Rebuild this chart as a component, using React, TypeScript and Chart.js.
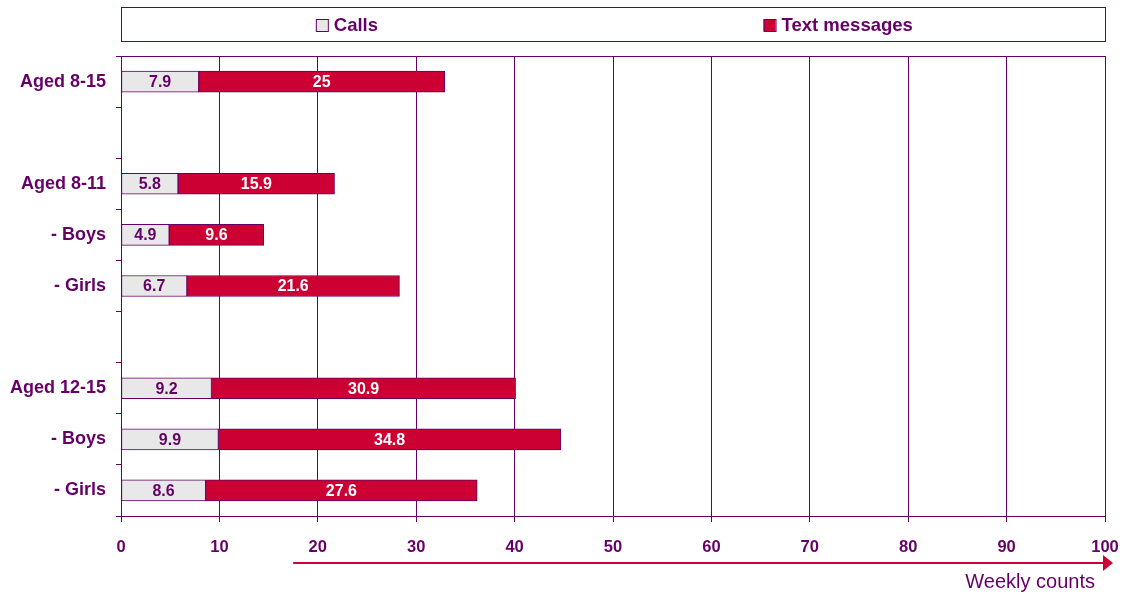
import React, { useEffect, useRef } from "react";
import { Chart, registerables } from "chart.js";

Chart.register(...registerables);

const categories = ["Aged 8-15", "", "Aged 8-11", "- Boys", "- Girls", "", "Aged 12-15", "- Boys", "- Girls"];
const callsValues = [7.9, null, 5.8, 4.9, 6.7, null, 9.2, 9.9, 8.6];
const textValues = [25, null, 15.9, 9.6, 21.6, null, 30.9, 34.8, 27.6];
const seriesNames = ["Calls", "Text messages"];
const xTicks = [0, 10, 20, 30, 40, 50, 60, 70, 80, 90, 100];
const axisTitle = "Weekly counts";

const PURPLE = "#660066";
const RED = "#CC0033";
const GREY = "#E8E8E8";
const FONT = "'Liberation Sans', Arial, sans-serif";

const decorPlugin = {
  id: "decor",
  afterDraw(chart: any) {
    const { ctx, chartArea } = chart;
    const { left, right, top } = chartArea;
    const xs = chart.scales.x;
    ctx.save();
    // top border of plot
    ctx.strokeStyle = PURPLE;
    ctx.lineWidth = 1;
    ctx.beginPath();
    ctx.moveTo(left, top + 0.5);
    ctx.lineTo(right, top + 0.5);
    ctx.stroke();

    // legend box
    ctx.strokeStyle = PURPLE;
    ctx.strokeRect(left + 0.5, 7.5, right - left, 34);
    const colors = [GREY, RED];
    const starts = [0.198, 0.653];
    ctx.font = `bold 18.5px ${FONT}`;
    ctx.textBaseline = "middle";
    ctx.textAlign = "left";
    seriesNames.forEach((name, i) => {
      const x0 = left + (right - left) * starts[i];
      ctx.fillStyle = colors[i];
      ctx.fillRect(x0, 19, 12, 12);
      ctx.strokeStyle = PURPLE;
      ctx.strokeRect(x0 + 0.5, 19.5, 12, 12);
      ctx.fillStyle = PURPLE;
      ctx.fillText(name, x0 + 18, 25.5);
    });

    // data labels
    ctx.font = `bold 16px ${FONT}`;
    ctx.textAlign = "center";
    ctx.textBaseline = "middle";
    chart.data.datasets.forEach((ds: any, di: number) => {
      const meta = chart.getDatasetMeta(di);
      meta.data.forEach((bar: any, i: number) => {
        const v = ds.data[i];
        if (v == null) return;
        const c = bar.getCenterPoint();
        ctx.fillStyle = di === 0 ? PURPLE : "#FFFFFF";
        ctx.fillText(String(v), c.x, c.y + 1);
      });
    });

    // arrow
    const ax0 = xs.getPixelForValue(17.5);
    const ax1 = right + 8;
    const ay = 563;
    ctx.strokeStyle = RED;
    ctx.fillStyle = RED;
    ctx.lineWidth = 2;
    ctx.beginPath();
    ctx.moveTo(ax0, ay);
    ctx.lineTo(ax1 - 8, ay);
    ctx.stroke();
    ctx.beginPath();
    ctx.moveTo(ax1 - 10, ay - 8);
    ctx.lineTo(ax1, ay);
    ctx.lineTo(ax1 - 10, ay + 8);
    ctx.closePath();
    ctx.fill();

    ctx.fillStyle = PURPLE;
    ctx.font = `20px ${FONT}`;
    ctx.textAlign = "right";
    ctx.textBaseline = "alphabetic";
    ctx.fillText(axisTitle, right - 10, 588);
    ctx.restore();
  },
};

export default function App() {
  const ref = useRef<HTMLCanvasElement>(null);
  useEffect(() => {
    document.body.style.margin = "0";
    const chart = new Chart(ref.current as HTMLCanvasElement, {
      type: "bar",
      data: {
        labels: categories,
        datasets: [
          {
            label: seriesNames[0],
            data: callsValues as any,
            backgroundColor: GREY,
            borderColor: PURPLE,
            borderWidth: 1,
            borderSkipped: false,
            barThickness: 21,
          },
          {
            label: seriesNames[1],
            data: textValues as any,
            backgroundColor: RED,
            borderColor: PURPLE,
            borderWidth: 1,
            borderSkipped: false,
            barThickness: 21,
          },
        ],
      },
      options: {
        indexAxis: "y",
        animation: false,
        responsive: false,
        maintainAspectRatio: false,
        layout: { padding: { top: 56, right: 19, left: 0, bottom: 0 } },
        plugins: { legend: { display: false }, tooltip: { enabled: false } },
        scales: {
          x: {
            stacked: true,
            min: 0,
            max: 100,
            afterBuildTicks: (scale: any) => {
              scale.ticks = xTicks.map((v) => ({ value: v }));
            },
            afterFit: (scale: any) => {
              scale.height = 78;
              scale.paddingLeft = 0;
              scale.paddingRight = 0;
            },
            grid: { color: PURPLE, lineWidth: 1, tickLength: 6, drawTicks: true },
            border: { color: PURPLE, width: 1 },
            ticks: {
              color: PURPLE,
              font: { family: FONT, size: 16.5, weight: "bold" },
              padding: 16,
              maxRotation: 0,
            },
          },
          y: {
            stacked: true,
            afterFit: (scale: any) => {
              scale.width = 121;
              scale.paddingTop = 0;
              scale.paddingBottom = 0;
            },
            grid: { drawOnChartArea: false, color: PURPLE, tickLength: 5, offset: true },
            border: { color: PURPLE, width: 1 },
            ticks: {
              color: PURPLE,
              font: { family: FONT, size: 18, weight: "bold" },
              padding: 10,
            },
          },
        },
      } as any,
      plugins: [decorPlugin],
    });
    return () => chart.destroy();
  }, []);
  return <canvas ref={ref} width={1124} height={594} style={{ display: "block" }} />;
}
